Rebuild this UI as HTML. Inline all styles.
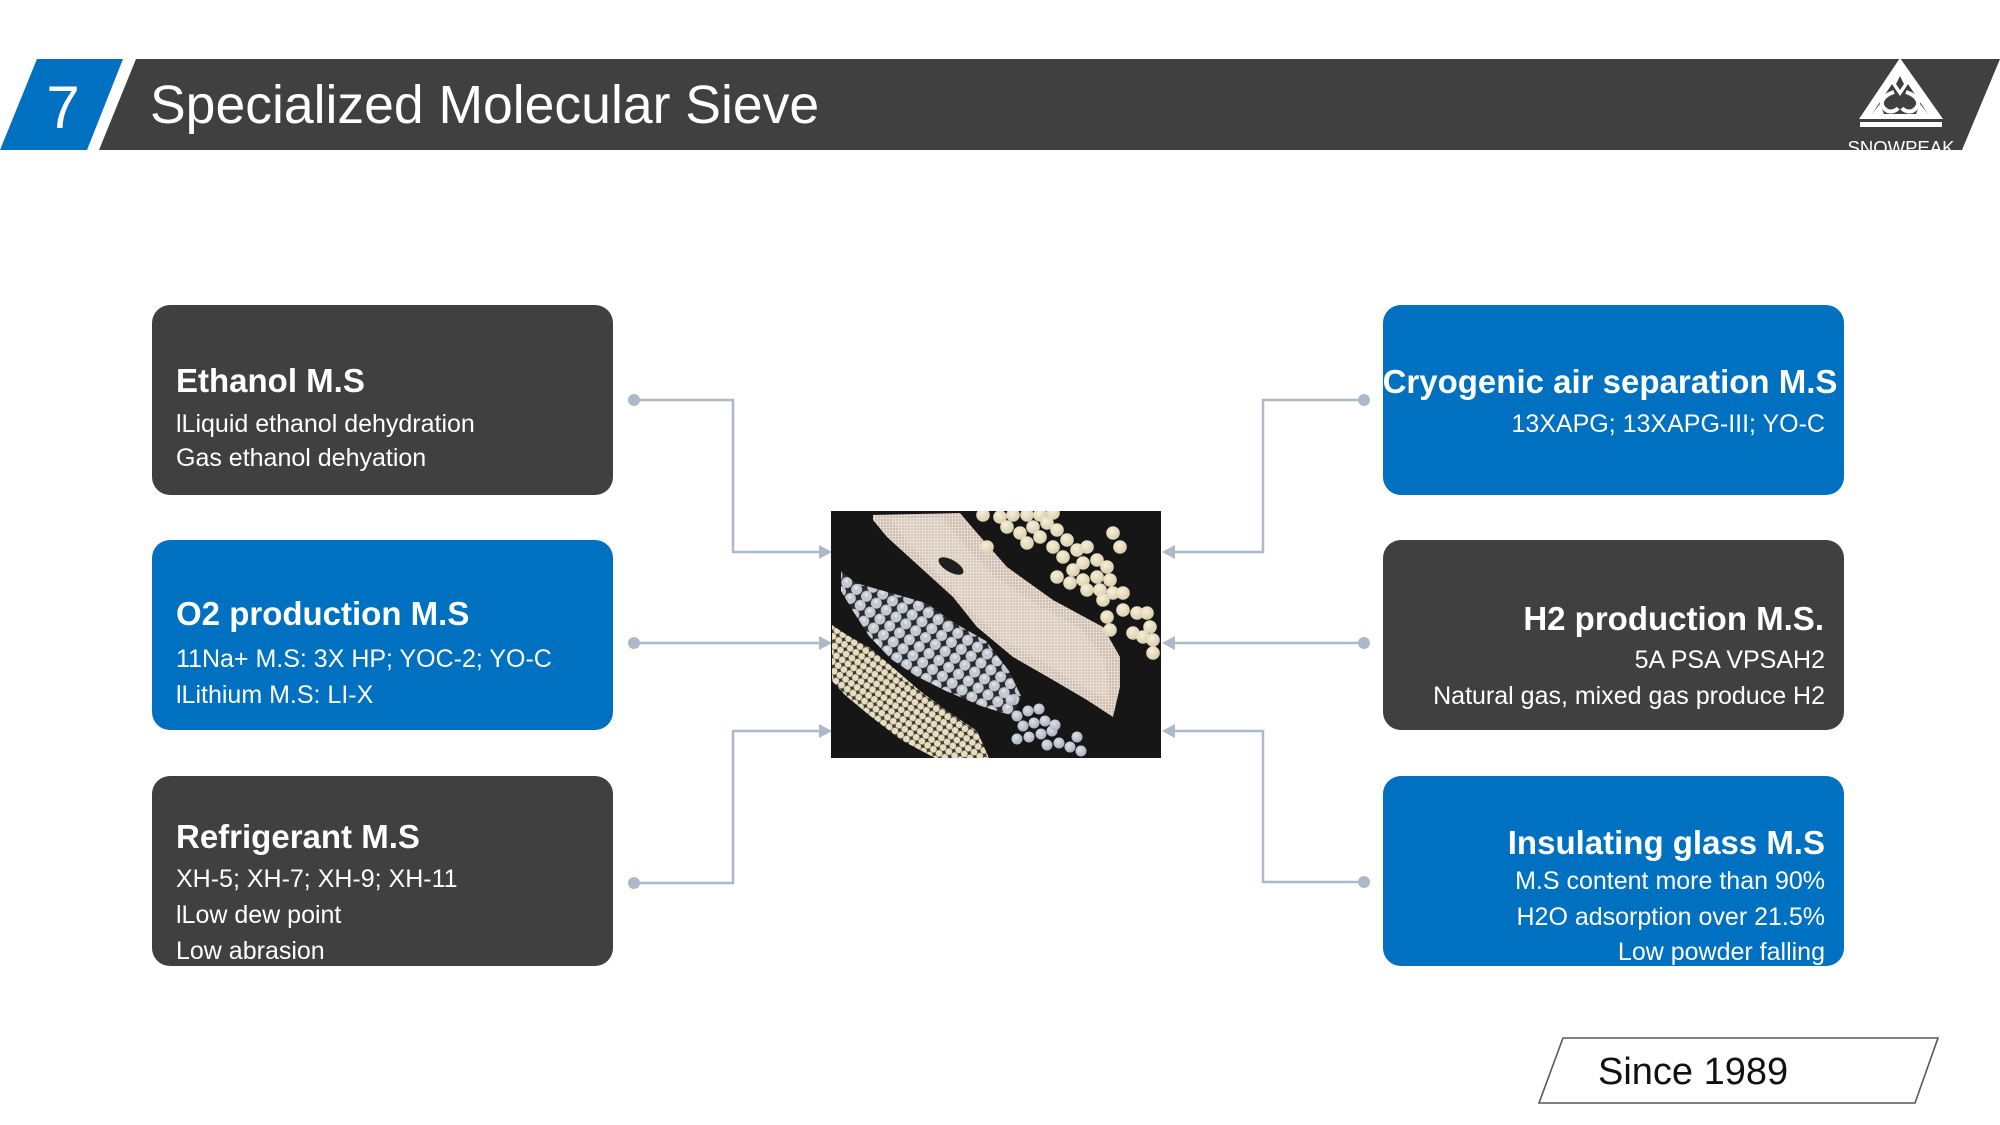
<!DOCTYPE html>
<html>
<head>
<meta charset="utf-8">
<style>
html,body{margin:0;padding:0;background:#fff;}
svg{display:block;}
text{font-family:"Liberation Sans",Arial,sans-serif;}
</style>
</head>
<body>
<svg width="2000" height="1125" viewBox="0 0 2000 1125" xmlns="http://www.w3.org/2000/svg">
  <defs>
    <pattern id="powder" width="3" height="3" patternUnits="userSpaceOnUse">
      <rect width="3" height="3" fill="#c4b3a8"/>
      <circle cx="1.5" cy="1.5" r="1.2" fill="#f1e6da"/>
    </pattern>
    <pattern id="bluebeads" width="12" height="11" patternUnits="userSpaceOnUse" patternTransform="rotate(35)">
      <rect width="12" height="11" fill="#2a2a2a"/>
      <circle cx="6" cy="5.5" r="5.5" fill="#c3c8d1"/>
      <circle cx="4.8" cy="4.2" r="2" fill="#dde1e7"/>
    </pattern>
    <pattern id="creambeads" width="7" height="7" patternUnits="userSpaceOnUse" patternTransform="rotate(35)">
      <rect width="7" height="7" fill="#3a362c"/>
      <circle cx="3.5" cy="3.5" r="3.4" fill="#e6dcc0"/>
    </pattern>
    <radialGradient id="bigbead" cx="40%" cy="35%" r="65%">
      <stop offset="0" stop-color="#f6efd8"/>
      <stop offset="1" stop-color="#d9ceae"/>
    </radialGradient>
    <radialGradient id="bluebead" cx="40%" cy="35%" r="65%">
      <stop offset="0" stop-color="#dde1e8"/>
      <stop offset="1" stop-color="#aab1bd"/>
    </radialGradient>
  </defs>

  <!-- Header -->
  <polygon points="37,59 123,59 87,150 0,150" fill="#0070C0"/>
  <polygon points="136,59 2000,59 1962,150 99,150" fill="#404040"/>
  <text x="63" y="128" font-size="60" fill="#fff" text-anchor="middle">7</text>
  <text x="150" y="123" font-size="53.5" fill="#fff">Specialized Molecular Sieve</text>

  <!-- Logo -->
  <g>
    <polygon points="1900,58 1859,119 1943,119" fill="#fff"/>
    <polygon points="1900,72 1872,114 1928,114" fill="#404040"/>
    <path d="M1900,70 L1908,84 L1900,96 L1892,84 Z" fill="#fff"/>
    <path d="M1900,76 L1904,84 L1900,90 L1896,84 Z" fill="#404040"/>
    <path d="M1894,92 C1882,96 1878,104 1886,110 C1890,113 1896,111 1898,108" fill="none" stroke="#fff" stroke-width="4"/>
    <path d="M1906,92 C1918,96 1922,104 1914,110 C1910,113 1904,111 1902,108" fill="none" stroke="#fff" stroke-width="4"/>
    <polygon points="1872,114 1880,104 1884,114" fill="#fff"/>
    <polygon points="1928,114 1920,104 1916,114" fill="#fff"/>
    <rect x="1860" y="122" width="82" height="5" fill="#fff"/>
    <text x="1901" y="154" font-size="18.5" fill="#fff" text-anchor="middle">SNOWPEAK</text>
  </g>

  <!-- Left boxes -->
  <rect x="152" y="305" width="461" height="190" rx="18" ry="18" fill="#404040"/>
  <text x="176" y="392" font-size="33" font-weight="bold" fill="#fff">Ethanol M.S</text>
  <text x="176" y="432" font-size="25" fill="#fff">lLiquid ethanol dehydration</text>
  <text x="176" y="466" font-size="25" fill="#fff">Gas ethanol dehyation</text>

  <rect x="152" y="540" width="461" height="190" rx="18" ry="18" fill="#0070C0"/>
  <text x="176" y="625" font-size="33" font-weight="bold" fill="#fff">O2 production M.S</text>
  <text x="176" y="667" font-size="25" fill="#fff">11Na+ M.S: 3X HP; YOC-2; YO-C</text>
  <text x="176" y="703" font-size="25" fill="#fff">lLithium M.S: LI-X</text>

  <rect x="152" y="776" width="461" height="190" rx="18" ry="18" fill="#404040"/>
  <text x="176" y="848" font-size="33" font-weight="bold" fill="#fff">Refrigerant M.S</text>
  <text x="176" y="887" font-size="25" fill="#fff">XH-5; XH-7; XH-9; XH-11</text>
  <text x="176" y="923" font-size="25" fill="#fff">lLow dew point</text>
  <text x="176" y="959" font-size="25" fill="#fff">Low abrasion</text>

  <!-- Right boxes -->
  <rect x="1383" y="305" width="461" height="190" rx="18" ry="18" fill="#0070C0"/>
  <text x="1610" y="393" font-size="33" font-weight="bold" fill="#fff" text-anchor="middle">Cryogenic air separation M.S</text>
  <text x="1825" y="432" font-size="25" fill="#fff" text-anchor="end">13XAPG; 13XAPG-III; YO-C</text>

  <rect x="1383" y="540" width="461" height="190" rx="18" ry="18" fill="#404040"/>
  <text x="1824" y="630" font-size="33" font-weight="bold" fill="#fff" text-anchor="end">H2 production M.S.</text>
  <text x="1825" y="668" font-size="25" fill="#fff" text-anchor="end">5A PSA VPSAH2</text>
  <text x="1825" y="704" font-size="25" fill="#fff" text-anchor="end">Natural gas, mixed gas produce H2</text>

  <rect x="1383" y="776" width="461" height="190" rx="18" ry="18" fill="#0070C0"/>
  <text x="1825" y="854" font-size="33" font-weight="bold" fill="#fff" text-anchor="end">Insulating glass M.S</text>
  <text x="1825" y="889" font-size="25" fill="#fff" text-anchor="end">M.S content more than 90%</text>
  <text x="1825" y="925" font-size="25" fill="#fff" text-anchor="end">H2O adsorption over 21.5%</text>
  <text x="1825" y="960" font-size="25" fill="#fff" text-anchor="end">Low powder falling</text>

  <!-- Connectors -->
  <g stroke="#adb9c9" stroke-width="2.5" fill="none">
    <path d="M634,400 H733 V552 H821"/>
    <path d="M634,643 H821"/>
    <path d="M634,883 H733 V731 H821"/>
    <path d="M1364,400 H1263 V552 H1173"/>
    <path d="M1364,643 H1173"/>
    <path d="M1364,882 H1263 V731 H1173"/>
  </g>
  <g fill="#adb9c9">
    <circle cx="634" cy="400" r="6"/>
    <circle cx="634" cy="643" r="6"/>
    <circle cx="634" cy="883" r="6"/>
    <circle cx="1364" cy="400" r="6"/>
    <circle cx="1364" cy="643" r="6"/>
    <circle cx="1364" cy="882" r="6"/>
    <polygon points="819,545 832,552 819,559"/>
    <polygon points="819,636 832,643 819,650"/>
    <polygon points="819,724 832,731 819,738"/>
    <polygon points="1175,545 1162,552 1175,559"/>
    <polygon points="1175,636 1162,643 1175,650"/>
    <polygon points="1175,724 1162,731 1175,738"/>
  </g>

  <!-- Central photo -->
  <svg x="831" y="511" width="330" height="247" viewBox="0 0 330 247">
    <rect width="330" height="247" fill="#161616"/>
    <!-- powder band -->
    <polygon points="42,4 129,2 146,22 176,56 222,89 272,116 289,146 289,176 282,206 256,189 222,169 182,146 146,116 122,86 89,56 56,26 42,9" fill="url(#powder)"/>
    <polygon points="60,8 110,6 130,30 160,62 200,90 250,118 275,150 278,190 250,175 210,150 170,128 135,95 105,62 75,30" fill="#efe3d7" opacity="0.35"/>
    <ellipse cx="120" cy="55" rx="14" ry="6" fill="#1f1f1f" transform="rotate(30 120 55)"/>
    <!-- blue beads band -->
    <polygon points="10,60 25,72 60,82 95,92 120,110 155,130 178,160 190,185 182,205 150,195 115,180 85,165 60,148 38,125 22,100 10,80" fill="url(#bluebeads)"/>
    <!-- cream small beads -->
    <polygon points="1,114 16,124 39,137 66,160 89,180 116,200 146,220 158,247 104,247 70,229 38,204 14,184 1,170" fill="url(#creambeads)"/>
    <!-- small blue group lower right -->
    <g fill="url(#bluebead)">
      <circle cx="186" cy="205" r="5.5"/><circle cx="197" cy="200" r="5.5"/><circle cx="208" cy="198" r="5.5"/>
      <circle cx="192" cy="215" r="5.5"/><circle cx="203" cy="212" r="5.5"/><circle cx="214" cy="210" r="5.5"/>
      <circle cx="198" cy="226" r="5.5"/><circle cx="210" cy="223" r="5.5"/><circle cx="221" cy="220" r="5.5"/>
      <circle cx="216" cy="234" r="5.5"/><circle cx="228" cy="232" r="5.5"/><circle cx="239" cy="236" r="5.5"/>
      <circle cx="246" cy="226" r="5.5"/><circle cx="224" cy="214" r="5.5"/><circle cx="186" cy="228" r="5.5"/>
      <circle cx="250" cy="240" r="5.5"/><circle cx="180" cy="189" r="5.5"/>
    </g>
    <!-- big cream spheres -->
    <g fill="url(#bigbead)">
      <circle cx="152" cy="4" r="6.8"/><circle cx="169" cy="6" r="6.8"/><circle cx="182" cy="4" r="6.8"/>
      <circle cx="196" cy="4" r="6.8"/><circle cx="209" cy="4" r="6.8"/><circle cx="222" cy="2" r="6.8"/>
      <circle cx="176" cy="16" r="6.8"/><circle cx="189" cy="22" r="6.8"/><circle cx="202" cy="16" r="6.8"/>
      <circle cx="216" cy="12" r="6.8"/><circle cx="226" cy="19" r="6.8"/><circle cx="156" cy="36" r="6.8"/>
      <circle cx="196" cy="32" r="6.8"/><circle cx="209" cy="26" r="6.8"/><circle cx="222" cy="36" r="6.8"/>
      <circle cx="236" cy="29" r="6.8"/><circle cx="246" cy="39" r="6.8"/><circle cx="232" cy="46" r="6.8"/>
      <circle cx="256" cy="36" r="6.8"/><circle cx="282" cy="22" r="6.8"/><circle cx="289" cy="36" r="6.8"/>
      <circle cx="226" cy="66" r="6.8"/><circle cx="242" cy="59" r="6.8"/><circle cx="252" cy="52" r="6.8"/>
      <circle cx="266" cy="49" r="6.8"/><circle cx="276" cy="56" r="6.8"/><circle cx="239" cy="72" r="6.8"/>
      <circle cx="252" cy="69" r="6.8"/><circle cx="266" cy="66" r="6.8"/><circle cx="279" cy="69" r="6.8"/>
      <circle cx="256" cy="79" r="6.8"/><circle cx="269" cy="79" r="6.8"/><circle cx="282" cy="82" r="6.8"/>
      <circle cx="292" cy="82" r="6.8"/><circle cx="272" cy="89" r="6.8"/><circle cx="276" cy="106" r="6.8"/>
      <circle cx="279" cy="119" r="6.8"/><circle cx="292" cy="99" r="6.8"/><circle cx="306" cy="102" r="6.8"/>
      <circle cx="316" cy="102" r="6.8"/><circle cx="319" cy="116" r="6.8"/><circle cx="302" cy="122" r="6.8"/>
      <circle cx="312" cy="126" r="6.8"/><circle cx="322" cy="129" r="6.8"/><circle cx="322" cy="142" r="6.8"/>
    </g>
  </svg>

  <!-- Since 1989 -->
  <polygon points="1563,1038 1938,1038 1915,1103 1539,1103" fill="#fff" stroke="#595959" stroke-width="1.6"/>
  <text x="1598" y="1084" font-size="38" fill="#111">Since 1989</text>
</svg>
</body>
</html>
